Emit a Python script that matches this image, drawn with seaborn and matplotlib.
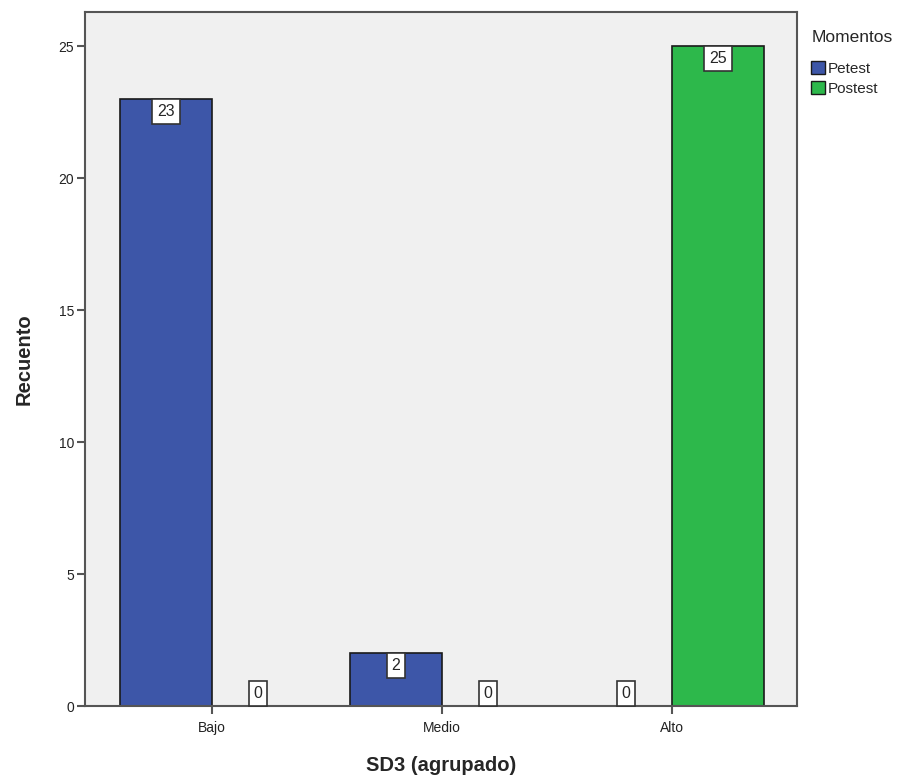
import matplotlib
matplotlib.use("Agg")
import matplotlib.pyplot as plt
import pandas as pd
import seaborn as sns

categorias = ["Bajo", "Medio", "Alto"]
petest = [23, 2, 0]
postest = [0, 0, 25]
momentos = ["Petest", "Postest"]
colores = ["#3D56A8", "#2DB84B"]

df = pd.DataFrame({
    "SD3 (agrupado)": categorias * 2,
    "Recuento": petest + postest,
    "Momentos": [momentos[0]] * 3 + [momentos[1]] * 3,
})

sns.set_style("white")
plt.rcParams["font.family"] = ["Liberation Sans", "DejaVu Sans"]

fig = plt.figure(figsize=(9.21, 7.8), dpi=100)
ax = fig.add_axes([85 / 921, 74 / 780, 712 / 921, 694 / 780])
ax.set_facecolor("#F0F0F0")

sns.barplot(data=df, x="SD3 (agrupado)", y="Recuento", hue="Momentos",
            order=categorias, hue_order=momentos, palette=colores, saturation=1,
            edgecolor="#1a1a1a", linewidth=1.2, width=0.8, ax=ax, legend=True)

# etiquetas de valor en cajas blancas
caja = dict(boxstyle="square,pad=0.3", fc="white", ec="#333333", lw=1.2)
for cont in ax.containers:
    for bar in cont:
        h = bar.get_height()
        xc = bar.get_x() + bar.get_width() / 2
        if h > 0:
            ax.annotate(f"{int(h)}", (xc, h), xytext=(0, -3.5), textcoords="offset points",
                        ha="center", va="top", fontsize=11.5, bbox=caja)
        else:
            ax.annotate(f"{int(h)}", (xc, 0), xytext=(0, 3.5), textcoords="offset points",
                        ha="center", va="bottom", fontsize=11.5, bbox=caja)

ax.set_ylim(0, 26.3)
ax.set_xlim(-0.552, 2.543)
ax.set_yticks([0, 5, 10, 15, 20, 25])
ax.set_xticks([0, 1, 2])
ax.set_xticklabels(categorias)
ax.tick_params(axis="both", direction="out", length=6, width=1.5, color="#555555",
               labelsize=10, labelcolor="#222222", bottom=True, left=True)
ax.tick_params(axis="x", pad=5)
ax.tick_params(axis="y", pad=2)

for s in ax.spines.values():
    s.set_color("#555555")
    s.set_linewidth(1.5)

ax.set_xlabel("SD3 (agrupado)", fontsize=14.5, fontweight="bold", labelpad=15)
ax.set_ylabel("Recuento", fontsize=14.5, fontweight="bold", labelpad=18)

leg = ax.legend(title="Momentos", loc="upper left", bbox_to_anchor=(1.005, 0.99),
                frameon=False, fontsize=11, title_fontsize=12.5,
                handlelength=0.9, handleheight=0.9, handletextpad=0.2,
                labelspacing=0.35, borderaxespad=0.3)
leg._legend_box.align = "left"
leg._legend_box.sep = 12
for p in leg.get_patches():
    p.set_edgecolor("#1a1a1a")
    p.set_linewidth(1)

fig.savefig("out.png", dpi=100)
